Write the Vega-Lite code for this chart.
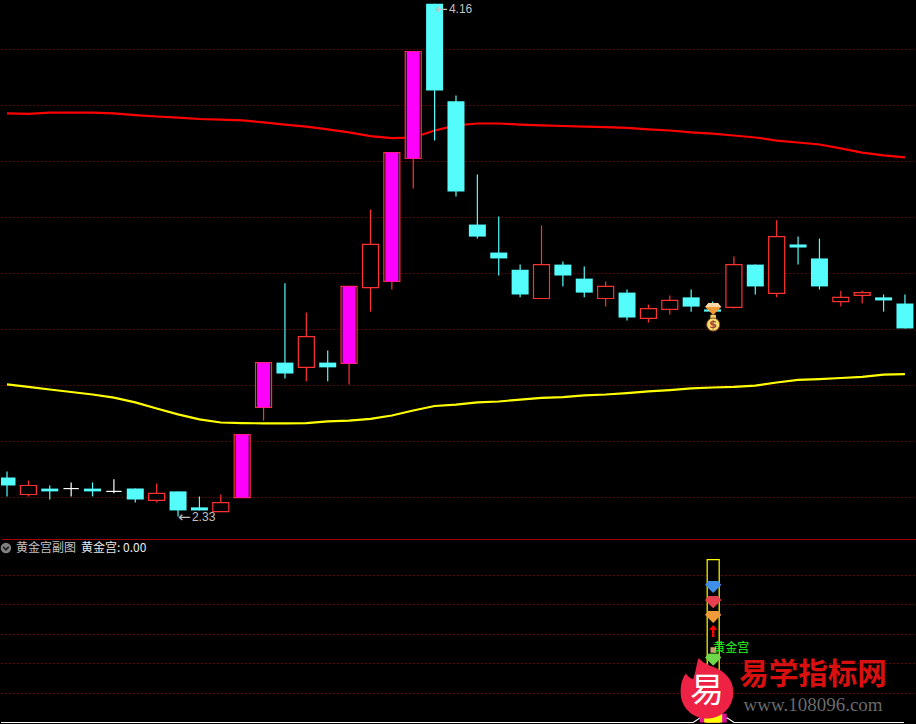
{"$schema":"https://vega.github.io/schema/vega-lite/v6.json","background":"#000000","padding":0,"spacing":0,"autosize":{"type":"pad","contains":"content"},"config":{"view":{"stroke":null},"text":{"font":"Noto Sans CJK SC"},"concat":{"spacing":0}},"datasets":{"candles":[
{"i":0,"kind":"down","top":2.470,"bot":2.441,"hi":2.491,"lo":2.402},
{"i":1,"kind":"up","top":2.441,"bot":2.409,"hi":2.459,"lo":2.402},
{"i":2,"kind":"down","top":2.430,"bot":2.420,"hi":2.441,"lo":2.391},
{"i":3,"kind":"doji","top":2.430,"bot":2.430,"hi":2.452,"lo":2.402},
{"i":4,"kind":"down","top":2.430,"bot":2.420,"hi":2.452,"lo":2.402},
{"i":5,"kind":"doji","top":2.420,"bot":2.420,"hi":2.463,"lo":2.413},
{"i":6,"kind":"down","top":2.430,"bot":2.391,"hi":2.430,"lo":2.380},
{"i":7,"kind":"up","top":2.413,"bot":2.388,"hi":2.448,"lo":2.380},
{"i":8,"kind":"down","top":2.420,"bot":2.352,"hi":2.420,"lo":2.33},
{"i":9,"kind":"down","top":2.363,"bot":2.352,"hi":2.402,"lo":2.352},
{"i":10,"kind":"up","top":2.380,"bot":2.348,"hi":2.409,"lo":2.348},
{"i":11,"kind":"surge","top":2.623,"bot":2.398,"hi":2.623,"lo":2.398},
{"i":12,"kind":"surge","top":2.880,"bot":2.720,"hi":2.880,"lo":2.673},
{"i":13,"kind":"down","top":2.880,"bot":2.841,"hi":3.163,"lo":2.823},
{"i":14,"kind":"up","top":2.973,"bot":2.863,"hi":3.059,"lo":2.813},
{"i":15,"kind":"down","top":2.880,"bot":2.863,"hi":2.923,"lo":2.813},
{"i":16,"kind":"surge","top":3.152,"bot":2.877,"hi":3.152,"lo":2.802},
{"i":17,"kind":"up","top":3.302,"bot":3.148,"hi":3.427,"lo":3.062},
{"i":18,"kind":"surge","top":3.630,"bot":3.170,"hi":3.630,"lo":3.141},
{"i":19,"kind":"surge","top":3.991,"bot":3.609,"hi":3.991,"lo":3.502},
{"i":20,"kind":"down","top":4.162,"bot":3.852,"hi":4.162,"lo":3.673},
{"i":21,"kind":"down","top":3.813,"bot":3.491,"hi":3.834,"lo":3.473},
{"i":22,"kind":"down","top":3.373,"bot":3.330,"hi":3.552,"lo":3.323},
{"i":23,"kind":"down","top":3.273,"bot":3.252,"hi":3.402,"lo":3.191},
{"i":24,"kind":"down","top":3.212,"bot":3.123,"hi":3.230,"lo":3.113},
{"i":25,"kind":"up","top":3.230,"bot":3.109,"hi":3.370,"lo":3.109},
{"i":26,"kind":"down","top":3.230,"bot":3.191,"hi":3.241,"lo":3.152},
{"i":27,"kind":"down","top":3.180,"bot":3.130,"hi":3.223,"lo":3.113},
{"i":28,"kind":"up","top":3.152,"bot":3.109,"hi":3.170,"lo":3.080},
{"i":29,"kind":"down","top":3.130,"bot":3.041,"hi":3.141,"lo":3.030},
{"i":30,"kind":"up","top":3.073,"bot":3.038,"hi":3.087,"lo":3.023},
{"i":31,"kind":"up","top":3.102,"bot":3.070,"hi":3.120,"lo":3.052},
{"i":32,"kind":"down","top":3.113,"bot":3.080,"hi":3.141,"lo":3.062},
{"i":33,"kind":"down","top":3.070,"bot":3.062,"hi":3.098,"lo":3.062},
{"i":34,"kind":"up","top":3.230,"bot":3.077,"hi":3.259,"lo":3.073},
{"i":35,"kind":"down","top":3.230,"bot":3.152,"hi":3.230,"lo":3.123},
{"i":36,"kind":"up","top":3.330,"bot":3.127,"hi":3.388,"lo":3.113},
{"i":37,"kind":"down","top":3.302,"bot":3.291,"hi":3.330,"lo":3.230},
{"i":38,"kind":"down","top":3.252,"bot":3.152,"hi":3.323,"lo":3.141},
{"i":39,"kind":"up","top":3.113,"bot":3.098,"hi":3.137,"lo":3.080},
{"i":40,"kind":"up","top":3.130,"bot":3.120,"hi":3.137,"lo":3.091},
{"i":41,"kind":"down","top":3.113,"bot":3.102,"hi":3.123,"lo":3.062},
{"i":42,"kind":"down","top":3.091,"bot":3.002,"hi":3.123,"lo":3.002}],
"ma":[
{"i":0,"upper":3.770,"lower":2.802},{"i":1,"upper":3.768,"lower":2.793},{"i":2,"upper":3.773,"lower":2.784},{"i":3,"upper":3.773,"lower":2.775},{"i":4,"upper":3.773,"lower":2.766},{"i":5,"upper":3.770,"lower":2.755},{"i":6,"upper":3.764,"lower":2.738},{"i":7,"upper":3.759,"lower":2.716},{"i":8,"upper":3.755,"lower":2.695},{"i":9,"upper":3.750,"lower":2.677},{"i":10,"upper":3.748,"lower":2.666},{"i":11,"upper":3.745,"lower":2.664},{"i":12,"upper":3.738,"lower":2.663},{"i":13,"upper":3.730,"lower":2.663},{"i":14,"upper":3.723,"lower":2.664},{"i":15,"upper":3.713,"lower":2.670},{"i":16,"upper":3.702,"lower":2.673},{"i":17,"upper":3.689,"lower":2.679},{"i":18,"upper":3.682,"lower":2.691},{"i":19,"upper":3.684,"lower":2.709},{"i":20,"upper":3.709,"lower":2.725},{"i":21,"upper":3.727,"lower":2.730},{"i":22,"upper":3.734,"lower":2.738},{"i":23,"upper":3.734,"lower":2.741},{"i":24,"upper":3.730,"lower":2.748},{"i":25,"upper":3.727,"lower":2.754},{"i":26,"upper":3.725,"lower":2.757},{"i":27,"upper":3.723,"lower":2.763},{"i":28,"upper":3.721,"lower":2.766},{"i":29,"upper":3.718,"lower":2.771},{"i":30,"upper":3.713,"lower":2.777},{"i":31,"upper":3.709,"lower":2.782},{"i":32,"upper":3.702,"lower":2.788},{"i":33,"upper":3.698,"lower":2.791},{"i":34,"upper":3.691,"lower":2.793},{"i":35,"upper":3.684,"lower":2.798},{"i":36,"upper":3.673,"lower":2.809},{"i":37,"upper":3.666,"lower":2.818},{"i":38,"upper":3.659,"lower":2.821},{"i":39,"upper":3.645,"lower":2.825},{"i":40,"upper":3.630,"lower":2.829},{"i":41,"upper":3.620,"lower":2.837},{"i":42,"upper":3.613,"lower":2.839}],
"gems":[{"i":33.03,"v":91.8,"gem":"blue"},{"i":33.03,"v":81.6,"gem":"red"},{"i":33.03,"v":71.5,"gem":"orange"},{"i":33.03,"v":42.7,"gem":"green"}],
"base":[{"i":-0.28,"v":0},{"i":32.1,"v":0},{"i":32.4,"v":3},{"i":33.7,"v":3},{"i":34,"v":0},{"i":41.95,"v":0}]},
"vconcat":[
{"width":916,"height":539,"resolve":{"axis":{"x":"independent","y":"independent"}},"layer":[
{"data":{"name":"ma"},"mark":{"type":"line","color":"#FF0000","strokeWidth":2.2,"clip":true},"encoding":{"x":{"field":"i","type":"quantitative","scale":{"domain":[-0.281,42.563],"nice":false,"zero":false,"padding":0},"axis":{"domain":true,"domainColor":"#A00000","domainWidth":1,"ticks":false,"labels":false,"grid":false,"title":null}},"y":{"field":"upper","type":"quantitative","scale":{"domain":[2.25,4.175],"nice":false,"zero":false},"axis":{"values":[2.4,2.6,2.8,3.0,3.2,3.4,3.6,3.8,4.0],"grid":true,"gridColor":"#B00000","gridDash":[1,3],"gridWidth":1,"domain":false,"ticks":false,"labels":false,"title":null}}}},
{"data":{"name":"ma"},"mark":{"type":"line","color":"#FFFF00","strokeWidth":2.2,"clip":true},"encoding":{"x":{"field":"i","type":"quantitative","axis":null},"y":{"field":"lower","type":"quantitative","axis":null}}},
{"data":{"name":"candles"},"mark":{"type":"rule","strokeWidth":1.2,"clip":true},"encoding":{"x":{"field":"i","type":"quantitative","axis":null},"y":{"field":"lo","type":"quantitative","axis":null},"y2":{"field":"hi"},"color":{"field":"kind","type":"nominal","legend":null,"scale":{"domain":["down","up","surge","doji"],"range":["#54FCFC","#FF3232","#FF3232","#FFFFFF"]}}}},
{"data":{"name":"candles"},"transform":[{"filter":"datum.kind==='down'"}],"mark":{"type":"bar","orient":"vertical","size":17,"fill":"#54FCFC","clip":true},"encoding":{"x":{"field":"i","type":"quantitative","axis":null},"y":{"field":"top","type":"quantitative","axis":null},"y2":{"field":"bot"}}},
{"data":{"name":"candles"},"transform":[{"filter":"datum.kind==='up'||datum.kind==='surge'"}],"mark":{"type":"bar","orient":"vertical","size":16,"fill":"#000000","stroke":"#FF3232","strokeWidth":1.2,"clip":true},"encoding":{"x":{"field":"i","type":"quantitative","axis":null},"y":{"field":"top","type":"quantitative","axis":null},"y2":{"field":"bot"}}},
{"data":{"name":"candles"},"transform":[{"filter":"datum.kind==='surge'"}],"mark":{"type":"bar","orient":"vertical","size":13,"fill":"#FF00FF","clip":true},"encoding":{"x":{"field":"i","type":"quantitative","axis":null},"y":{"field":"top","type":"quantitative","axis":null},"y2":{"field":"bot"}}},
{"data":{"name":"candles"},"transform":[{"filter":"datum.kind==='doji'"}],"mark":{"type":"bar","orient":"vertical","size":15,"fill":"#FFFFFF","stroke":"#FFFFFF","strokeWidth":1,"clip":true},"encoding":{"x":{"field":"i","type":"quantitative","axis":null},"y":{"field":"top","type":"quantitative","axis":null},"y2":{"field":"bot"}}},
{"data":{"values":[{"i":8,"p":2.327,"t":"←"},{"i":20.02,"p":4.143,"t":"←"}]},"mark":{"type":"text","align":"left","baseline":"middle","fontSize":15,"font":"DejaVu Sans","color":"#C0C0C0"},"encoding":{"x":{"field":"i","type":"quantitative","axis":null},"y":{"field":"p","type":"quantitative","axis":null},"text":{"field":"t"}}},
{"data":{"values":[{"i":8.65,"p":2.327,"t":"2.33"},{"i":20.67,"p":4.143,"t":"4.16"}]},"mark":{"type":"text","align":"left","baseline":"middle","fontSize":12,"font":"Liberation Sans","color":"#C0C0C0"},"encoding":{"x":{"field":"i","type":"quantitative","axis":null},"y":{"field":"p","type":"quantitative","axis":null},"text":{"field":"t"}}},
{"data":{"values":[{"i":33.03,"p":3.073}]},"mark":{"type":"point","filled":true,"opacity":1,"size":256,"color":"#F09A3A","shape":"M-0.6,-0.7 L0.6,-0.7 L1,-0.2 L0,0.8 L-1,-0.2 Z"},"encoding":{"x":{"field":"i","type":"quantitative","axis":null},"y":{"field":"p","type":"quantitative","axis":null}}},
{"data":{"values":[{"i":33.03,"p":3.073}]},"mark":{"type":"point","filled":true,"opacity":1,"size":256,"color":"#FFD9A8","shape":"M-0.6,-0.7 L0.6,-0.7 L1,-0.2 L-1,-0.2 Z"},"encoding":{"x":{"field":"i","type":"quantitative","axis":null},"y":{"field":"p","type":"quantitative","axis":null}}},
{"data":{"values":[{"i":33.03,"p":3.041}]},"mark":{"type":"point","filled":true,"opacity":1,"size":30,"shape":"square","color":"#F5D060"},"encoding":{"x":{"field":"i","type":"quantitative","axis":null},"y":{"field":"p","type":"quantitative","axis":null}}},
{"data":{"values":[{"i":33.03,"p":3.016}]},"mark":{"type":"point","filled":true,"opacity":1,"size":170,"shape":"circle","color":"#F8DC70","stroke":"#8A4A20","strokeWidth":1},"encoding":{"x":{"field":"i","type":"quantitative","axis":null},"y":{"field":"p","type":"quantitative","axis":null}}},
{"data":{"values":[{"i":33.03,"p":3.016,"t":"$"}]},"mark":{"type":"text","align":"center","baseline":"middle","fontSize":11,"fontWeight":"bold","font":"DejaVu Sans","color":"#9A4A40"},"encoding":{"x":{"field":"i","type":"quantitative","axis":null},"y":{"field":"p","type":"quantitative","axis":null},"text":{"field":"t"}}}
]},
{"width":916,"height":185,"resolve":{"axis":{"x":"independent","y":"independent"}},"layer":[
{"data":{"name":"base"},"mark":{"type":"line","color":"#FFFFFF","strokeWidth":1.2,"clip":true},"encoding":{"x":{"field":"i","type":"quantitative","scale":{"domain":[-0.281,42.563],"nice":false,"zero":false,"padding":0},"axis":null},"y":{"field":"v","type":"quantitative","scale":{"domain":[-1.01,124],"nice":false,"zero":false},"axis":{"values":[20,40,60,80,100],"grid":true,"gridColor":"#D00000","gridDash":[1,3],"gridWidth":1,"domain":false,"ticks":false,"labels":false,"title":null}}}},
{"data":{"values":[{"i":33.03,"a":0,"b":110}]},"mark":{"type":"bar","orient":"vertical","size":12,"fill":"#000000","stroke":"#FFFF00","strokeWidth":1.2},"encoding":{"x":{"field":"i","type":"quantitative","axis":null},"y":{"field":"a","type":"quantitative","axis":null},"y2":{"field":"b"}}},
{"data":{"values":[{"i":33.03,"a":0,"b":6}]},"mark":{"type":"bar","orient":"vertical","size":27,"fill":"#E0109A"},"encoding":{"x":{"field":"i","type":"quantitative","axis":null},"y":{"field":"a","type":"quantitative","axis":null},"y2":{"field":"b"}}},
{"data":{"values":[{"i":33.03,"a":0,"b":6}]},"mark":{"type":"bar","orient":"vertical","size":18,"fill":"#FFFF00"},"encoding":{"x":{"field":"i","type":"quantitative","axis":null},"y":{"field":"a","type":"quantitative","axis":null},"y2":{"field":"b"}}},
{"data":{"name":"gems"},"mark":{"type":"point","filled":true,"opacity":1,"size":256,"shape":"M-0.6,-0.7 L0.6,-0.7 L1,-0.2 L0,0.8 L-1,-0.2 Z"},"encoding":{"x":{"field":"i","type":"quantitative","axis":null},"y":{"field":"v","type":"quantitative","axis":null},"color":{"field":"gem","type":"nominal","legend":null,"scale":{"domain":["blue","red","orange","green"],"range":["#3F8EE8","#E8404E","#F09A3A","#6FD84A"]}}}},
{"data":{"name":"gems"},"mark":{"type":"point","filled":true,"opacity":1,"size":256,"shape":"M-0.6,-0.7 L0.6,-0.7 L1,-0.2 L-1,-0.2 Z"},"encoding":{"x":{"field":"i","type":"quantitative","axis":null},"y":{"field":"v","type":"quantitative","axis":null},"color":{"field":"gem","type":"nominal","legend":null,"scale":{"domain":["blue","red","orange","green"],"range":["#A8D4FF","#FFA0A8","#FFD9A8","#C8F5A8"]}}}},
{"data":{"values":[{"i":33.03,"v":61.8}]},"mark":{"type":"point","filled":true,"opacity":1,"size":144,"color":"#FF0000","shape":"M0,-1 L0.7,-0.2 L0.2,-0.2 L0.2,1 L-0.2,1 L-0.2,-0.2 L-0.7,-0.2 Z"},"encoding":{"x":{"field":"i","type":"quantitative","axis":null},"y":{"field":"v","type":"quantitative","axis":null}}},
{"data":{"values":[{"i":33.03,"v":49}]},"mark":{"type":"point","filled":true,"opacity":1,"size":30,"shape":"square","color":"#C8A070"},"encoding":{"x":{"field":"i","type":"quantitative","axis":null},"y":{"field":"v","type":"quantitative","axis":null}}},
{"data":{"values":[{"i":33.03,"v":50.3,"t":"黄金宫"}]},"mark":{"type":"text","align":"left","baseline":"middle","fontSize":12,"color":"#20FF20"},"encoding":{"x":{"field":"i","type":"quantitative","axis":null},"y":{"field":"v","type":"quantitative","axis":null},"text":{"field":"t"}}},
{"data":{"values":[{"i":-0.05,"v":117.9}]},"mark":{"type":"point","filled":true,"opacity":1,"size":110,"shape":"circle","color":"#808080"},"encoding":{"x":{"field":"i","type":"quantitative","axis":null},"y":{"field":"v","type":"quantitative","axis":null}}},
{"data":{"values":[{"i":-0.05,"v":117.9}]},"mark":{"type":"point","filled":false,"opacity":1,"size":49,"strokeWidth":1.5,"color":"#1A1A1A","shape":"M-0.8,-0.4 L0,0.5 L0.8,-0.4"},"encoding":{"x":{"field":"i","type":"quantitative","axis":null},"y":{"field":"v","type":"quantitative","axis":null}}},
{"data":{"values":[{"i":0.42,"v":117.9,"t":"黄金宫副图"}]},"mark":{"type":"text","align":"left","baseline":"middle","fontSize":12,"color":"#C0C0C0"},"encoding":{"x":{"field":"i","type":"quantitative","axis":null},"y":{"field":"v","type":"quantitative","axis":null},"text":{"field":"t"}}},
{"data":{"values":[{"i":3.46,"v":117.9,"t":"黄金宫: 0.00"}]},"mark":{"type":"text","align":"left","baseline":"middle","fontSize":12,"color":"#E8E8E8"},"encoding":{"x":{"field":"i","type":"quantitative","axis":null},"y":{"field":"v","type":"quantitative","axis":null},"text":{"field":"t"}}},
{"data":{"values":[{"i":32.74,"v":22.6}]},"mark":{"type":"point","filled":true,"opacity":1,"size":3844,"color":"#EE2244","shape":"M-0.27,-1 C-0.1,-0.8 0.15,-0.75 0.4,-0.62 C0.7,-0.45 0.85,-0.2 0.85,0.1 C0.85,0.58 0.47,0.95 0,0.95 C-0.47,0.95 -0.85,0.58 -0.85,0.1 C-0.85,-0.15 -0.8,-0.35 -0.68,-0.5 C-0.62,-0.4 -0.55,-0.35 -0.45,-0.32 C-0.35,-0.55 -0.35,-0.8 -0.27,-1 Z"},"encoding":{"x":{"field":"i","type":"quantitative","axis":null},"y":{"field":"v","type":"quantitative","axis":null}}},
{"data":{"values":[{"i":32.74,"v":20.3,"t":"易"}]},"mark":{"type":"text","align":"center","baseline":"middle","fontSize":34,"color":"#FFFFFF"},"encoding":{"x":{"field":"i","type":"quantitative","axis":null},"y":{"field":"v","type":"quantitative","axis":null},"text":{"field":"t"}}},
{"data":{"values":[{"i":37.7,"v":32,"t":"易学指标网"}]},"mark":{"type":"text","align":"center","baseline":"middle","fontSize":29.5,"fontWeight":"bold","color":"#D81010"},"encoding":{"x":{"field":"i","type":"quantitative","axis":null},"y":{"field":"v","type":"quantitative","axis":null},"text":{"field":"t"}}},
{"data":{"values":[{"i":37.7,"v":11.8,"t":"www.108096.com"}]},"mark":{"type":"text","align":"center","baseline":"middle","fontSize":19,"font":"Liberation Serif","color":"#6A6A6A"},"encoding":{"x":{"field":"i","type":"quantitative","axis":null},"y":{"field":"v","type":"quantitative","axis":null},"text":{"field":"t"}}}
]}
],"resolve":{"scale":{"x":"independent","y":"independent","color":"independent"}}}
